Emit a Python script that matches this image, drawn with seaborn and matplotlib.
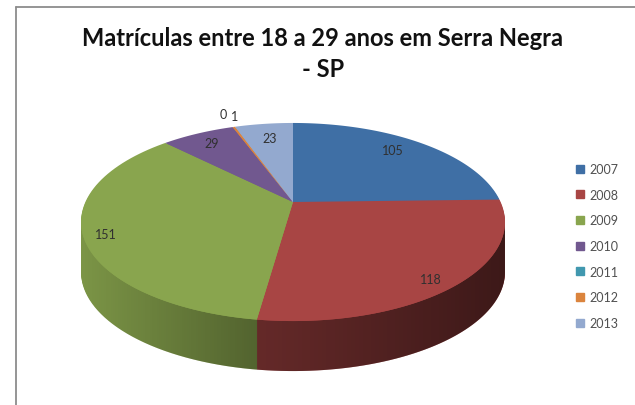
import numpy as np
import matplotlib
matplotlib.use("Agg")
import matplotlib.pyplot as plt
import seaborn as sns
from matplotlib.lines import Line2D
from matplotlib.patches import Polygon
from matplotlib.path import Path
from matplotlib.transforms import Affine2D, Transform

years = ["2007", "2008", "2009", "2010", "2011", "2012", "2013"]
values = [105, 118, 151, 29, 0, 1, 23]
hex_colors = ["#3F6FA5", "#A84544", "#89A54E", "#71588F", "#4198AF", "#DB843D", "#93A9CF"]
title_text = "Matrículas entre 18 a 29 anos em Serra Negra\n- SP"

# layout in reference pixels
W, H = 635, 406
CX, CY, A, B, K, DEPTH = 293, 203, 207.6, 95.0, 0.202, 50
label_px = [(393, 151), (431, 280), (106, 235), (212, 144), (223, 115), (235, 117), (270, 139)]


class Perspective(Transform):
    """Projects the unit disc of the pie onto a tilted plane, in pixel units."""
    input_dims = output_dims = 2
    is_separable = False
    has_inverse = False

    def transform_non_affine(self, xy):
        xy = np.asarray(xy, dtype=float)
        w = 1 + K * xy[:, 1]
        return np.c_[CX + A * xy[:, 0] / w, CY - B * xy[:, 1] / w]

    def transform_path_non_affine(self, path):
        polys = path.transformed(Affine2D().scale(1000)).to_polygons(closed_only=False)
        pts = np.vstack(polys) / 1000
        return Path(self.transform_non_affine(pts))


sns.set_theme(style="white")
plt.rcParams["font.family"] = ["Lato", "DejaVu Sans"]
palette = sns.color_palette(hex_colors)

fig = plt.figure(figsize=(W / 100, H / 100), dpi=100, facecolor="white")
ax = fig.add_axes([0, 0, 1, 1])
persp = Perspective()

# side of the disc: stacked copies of the same pie
for off in np.linspace(DEPTH, 1, DEPTH):
    side, _ = ax.pie(values, colors=palette, startangle=90, counterclock=False, radius=1, frame=False)
    for w in side:
        w.set_transform(persp + Affine2D().translate(0, off) + ax.transData)
        w.set_zorder(1)
        w.set_linewidth(0)

# horizontal shading of the side
t = np.linspace(np.pi + np.arcsin(K), 2 * np.pi - np.arcsin(K), 300)
rim = persp.transform_non_affine(np.c_[np.cos(t), np.sin(t)])
outline = np.r_[rim, (rim + [0, DEPTH])[::-1]]
clip = Polygon(outline, closed=True, transform=ax.transData, facecolor="none", edgecolor="none")
ax.add_patch(clip)
xs = np.linspace(81, 505, 256)
shade = np.zeros((1, 256, 4))
shade[..., 3] = 1 - np.interp(xs, [81, 258, 505], [0.90, 0.60, 0.36])
im = ax.imshow(shade, extent=(81, 505, 385, 200), aspect="auto", zorder=2, interpolation="bilinear")
im.set_clip_path(clip)

# top of the disc
wedges, _ = ax.pie(values, colors=palette, startangle=90, counterclock=False, radius=1, frame=False)
for w in wedges:
    w.set_transform(persp + ax.transData)
    w.set_zorder(3)
    w.set_linewidth(0)

ax.set_aspect("auto")
ax.set_xlim(0, W)
ax.set_ylim(H, 0)
ax.axis("off")

# data labels
for v, (lx, ly) in zip(values, label_px):
    ax.text(lx, ly, str(v), ha="center", va="center", fontsize=9, color="#303030", zorder=5)

# title
fig.text(323 / W, 1 - 54 / H, title_text, ha="center", va="center", fontsize=17,
         fontweight="bold", color="#111111", linespacing=1.38)

# legend
handles = [Line2D([], [], linestyle="none", marker="s", markersize=5.2, color=c) for c in palette]
ax.legend(handles, years, loc="center left", bbox_to_anchor=(574 / W, 1 - 247 / H),
          bbox_transform=fig.transFigure, frameon=False, fontsize=9, labelspacing=1.09,
          handletextpad=0.22, handlelength=1.0, borderpad=0, borderaxespad=0,
          labelcolor="#505050")

# chart border (left and top only are inside the crop)
bx, by = 15.5 / W, 1 - 8 / H
fig.add_artist(Line2D([bx, bx], [0, by], transform=fig.transFigure, color="#8C8C8C", lw=1.3))
fig.add_artist(Line2D([bx, 1], [by, by], transform=fig.transFigure, color="#8C8C8C", lw=1.3))

fig.savefig("out.png", dpi=100, facecolor="white")
